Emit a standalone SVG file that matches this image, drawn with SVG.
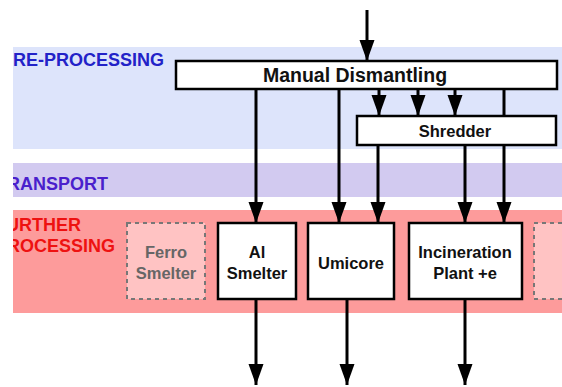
<svg xmlns="http://www.w3.org/2000/svg" width="562" height="387" viewBox="0 0 562 387">
<defs>
<marker id="ah" markerUnits="userSpaceOnUse" markerWidth="22" markerHeight="16" refX="21" refY="7.5" orient="auto">
<path d="M0,0 L21,7.5 L0,15 z" fill="#000"/>
</marker>
<clipPath id="bandclip"><rect x="13" y="0" width="549" height="387"/></clipPath>
</defs>
<style>
.lbl{font-family:"Liberation Sans",Arial,sans-serif;font-weight:bold;font-size:18px}
.box{fill:#fff;stroke:#000;stroke-width:2.5}
.dash{fill:#ffc3c3;stroke:#777;stroke-width:2;stroke-dasharray:4,4}
.t{font-family:"Liberation Sans",Arial,sans-serif;font-weight:bold;font-size:16.5px;text-anchor:middle;fill:#111}
.ca{stroke:#000;stroke-width:3;fill:none;marker-end:url(#ah)}
</style>
<rect width="562" height="387" fill="#fff"/>
<g id="bands">
<rect x="13" y="47" width="549" height="102" fill="#dde4fb"/>
<rect x="13" y="163" width="549" height="34" fill="#d2caf0"/>
<rect x="13" y="210" width="549" height="103" fill="#fd9b9b"/>
<g clip-path="url(#bandclip)">
<text class="lbl" x="13" y="66" fill="#2222c8">RE-PROCESSING</text>
<text class="lbl" x="7" y="190" fill="#4a1fcc">RANSPORT</text>
<text class="lbl" x="6" y="231" fill="#ee1111">URTHER</text>
<text class="lbl" x="7" y="252" fill="#ee1111">ROCESSING</text>
</g>
</g>
<g id="connectors">
<line class="ca" x1="367" y1="10" x2="367" y2="61"/>
<line class="ca" x1="256" y1="89" x2="256" y2="223"/>
<line class="ca" x1="339" y1="89" x2="339" y2="223"/>
<line class="ca" x1="379" y1="89" x2="379" y2="116"/>
<line class="ca" x1="418" y1="89" x2="418" y2="116"/>
<line class="ca" x1="455" y1="89" x2="455" y2="116"/>
<line class="ca" x1="504" y1="89" x2="504" y2="223"/>
<line class="ca" x1="378" y1="145" x2="378" y2="223"/>
<line class="ca" x1="465" y1="145" x2="465" y2="223"/>
<line class="ca" x1="256" y1="299" x2="256" y2="385"/>
<line class="ca" x1="347" y1="299" x2="347" y2="385"/>
<line class="ca" x1="465" y1="299" x2="465" y2="385"/>
</g>
<g id="manual-dismantling">
<rect class="box" x="176" y="61" width="381" height="28"/>
<text class="t" x="355" y="82" style="font-size:19.5px">Manual Dismantling</text>
</g>
<g id="shredder">
<rect class="box" x="357" y="116" width="199" height="29"/>
<text class="t" x="455" y="137" style="font-size:16.5px">Shredder</text>
</g>
<g id="ferro-smelter">
<rect class="dash" x="127" y="223" width="78" height="76"/>
<text class="t" x="166" y="258" style="fill:#666">Ferro</text>
<text class="t" x="166" y="279" style="fill:#666">Smelter</text>
</g>
<g id="al-smelter">
<rect class="box" x="218" y="223" width="78" height="76"/>
<text class="t" x="257" y="258">Al</text>
<text class="t" x="257" y="279">Smelter</text>
</g>
<g id="umicore">
<rect class="box" x="308" y="223" width="86" height="76"/>
<text class="t" x="351" y="269">Umicore</text>
</g>
<g id="incineration-plant">
<rect class="box" x="409" y="223" width="113" height="76"/>
<text class="t" x="465" y="258">Incineration</text>
<text class="t" x="465" y="279">Plant +e</text>
</g>
<g id="unnamed-dashed">
<rect class="dash" x="534" y="223" width="40" height="76"/>
</g>
</svg>
